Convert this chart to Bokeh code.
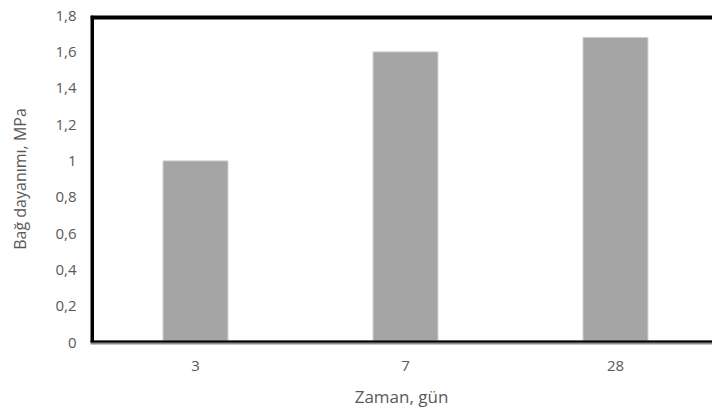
from bokeh.plotting import figure
from bokeh.models import Range1d, FixedTicker, ColumnDataSource, Span
from bokeh.embed import file_html
from bokeh.resources import INLINE

categories = ["3", "7", "28"]
values = [1.0, 1.6, 1.68]
y_ticks = [0, 0.2, 0.4, 0.6, 0.8, 1.0, 1.2, 1.4, 1.6, 1.8]
y_tick_labels = ["0", "0,2", "0,4", "0,6", "0,8", "1", "1,2", "1,4", "1,6", "1,8"]
x_title = "Zaman, gün"
y_title = "Bağ dayanımı, MPa"

x_pos = [i + 0.5 for i in range(len(categories))]
src = ColumnDataSource(dict(x=x_pos, top=values))

FONT = "Open Sans"
TXT = "#595959"

p = figure(width=712, height=412, output_backend="svg", toolbar_location=None,
           x_range=Range1d(0, 2.962), y_range=Range1d(0, 1.8),
           min_border_left=90, min_border_right=0, min_border_top=15, min_border_bottom=70)

p.vbar(x="x", top="top", width=0.31, bottom=0, source=src,
       fill_color="#a5a5a5", line_color="#d9d9d9", line_width=1)

p.outline_line_color=None
p.xgrid.visible=False
p.ygrid.visible=False

p.add_layout(Span(location=0, dimension="height", line_color="black", line_width=7))
p.add_layout(Span(location=1.8, dimension="width", line_color="black", line_width=8))
p.add_layout(Span(location=0, dimension="width", line_color="black", line_width=4))

p.yaxis.ticker = FixedTicker(ticks=y_ticks)
p.yaxis.major_label_overrides = {t: l for t, l in zip(y_ticks, y_tick_labels)}
p.yaxis.axis_line_color=None
p.yaxis.major_tick_line_color=None
p.yaxis.minor_tick_line_color=None
p.yaxis.major_tick_out=0
p.yaxis.major_label_standoff=14
p.yaxis.axis_label=y_title
p.yaxis.axis_label_standoff=21

p.xaxis.ticker = FixedTicker(ticks=x_pos)
p.xaxis.major_label_overrides = {x: c for x, c in zip(x_pos, categories)}
p.xaxis.axis_line_color="#8c8c8c"
p.xaxis.axis_line_width=4
p.xaxis.major_tick_line_color=None
p.xaxis.minor_tick_line_color=None
p.xaxis.major_tick_out=0
p.xaxis.major_label_standoff=18
p.xaxis.axis_label=x_title
p.xaxis.axis_label_standoff=11

for ax in (p.xaxis, p.yaxis):
    ax.major_label_text_font=FONT
    ax.major_label_text_font_size="15px"
    ax.major_label_text_color=TXT
    ax.axis_label_text_font=FONT
    ax.axis_label_text_font_size="16px"
    ax.axis_label_text_font_style="normal"
    ax.axis_label_text_color=TXT
p.xaxis.axis_label_text_font_size="17px"

p.border_fill_color="white"
p.background_fill_color="white"

open("out.html", "w").write(file_html(p, INLINE))
